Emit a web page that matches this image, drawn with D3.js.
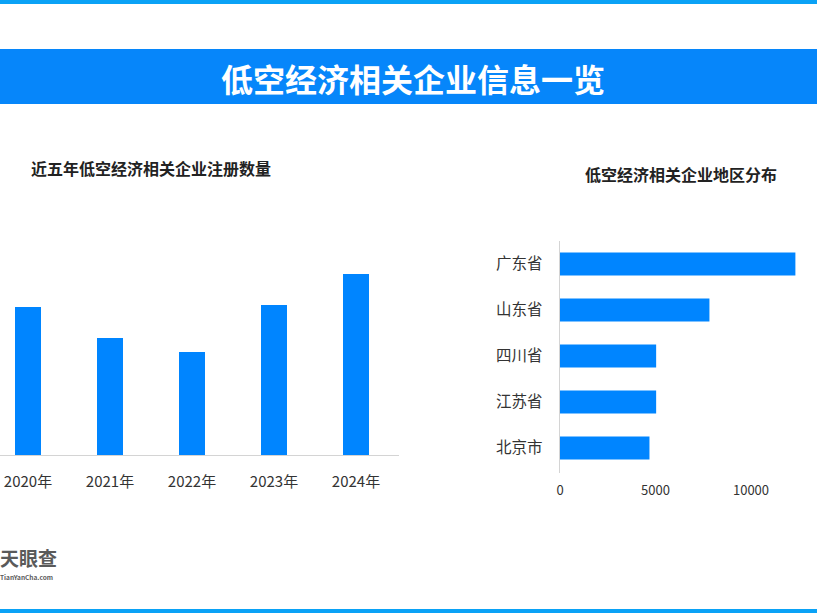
<!DOCTYPE html>
<html><head><meta charset="utf-8">
<script src="https://cdn.jsdelivr.net/npm/d3@7/dist/d3.min.js"></script>
<style>
html,body{margin:0;padding:0;background:#fff;overflow:hidden}
text{font-family:"Noto Sans CJK SC","Noto Sans",sans-serif}
</style></head><body>
<script>
const mainTitle = "低空经济相关企业信息一览";
const leftTitle = "近五年低空经济相关企业注册数量";
const rightTitle = "低空经济相关企业地区分布";
const years = ["2020年","2021年","2022年","2023年","2024年"];
const yearValues = [14800, 11700, 10300, 15000, 18100];
const regions = ["广东省","山东省","四川省","江苏省","北京市"];
const regionValues = [12350, 7850, 5060, 5060, 4710];
const regionTicks = [0, 5000, 10000];

const W = 817, H = 613;
const svg = d3.select("body").append("svg").attr("width", W).attr("height", H);

// decorative bars
svg.append("rect").attr("x",0).attr("y",0).attr("width",W).attr("height",4).attr("fill","#0aa2f6");
svg.append("rect").attr("x",0).attr("y",609).attr("width",W).attr("height",4).attr("fill","#0aa2f6");
svg.append("rect").attr("x",0).attr("y",49).attr("width",W).attr("height",55).attr("fill","#0686fa");
svg.append("text").attr("x",413).attr("y",78).attr("text-anchor","middle").attr("dominant-baseline","central")
  .attr("fill","#fff").attr("font-size",32).attr("font-weight","bold").text(mainTitle);

// left chart
svg.append("text").attr("x",31).attr("y",168).attr("dominant-baseline","central")
  .attr("fill","#222").attr("font-size",16).attr("font-weight","bold").text(leftTitle);
const x = d3.scaleBand().domain(years).range([-13, 397]).paddingInner(0.683).paddingOuter(0.3415);
const y = d3.scaleLinear().domain([0, 20000]).range([455, 255]);
const gl = svg.append("g");
gl.selectAll("rect.bar").data(years).join("rect").attr("class","bar")
  .attr("x", d => x(d)).attr("width", x.bandwidth())
  .attr("y", (d,i) => y(yearValues[i])).attr("height", (d,i) => y(0) - y(yearValues[i]))
  .attr("fill","#0085ff");
const xAxis = gl.append("g").attr("transform","translate(0,455)")
  .call(d3.axisBottom(x).tickSize(0).tickPadding(21));
xAxis.select(".domain").remove();
gl.append("line").attr("x1",0).attr("x2",399).attr("y1",455.5).attr("y2",455.5).attr("stroke","#d4d4d4");
xAxis.selectAll("text").attr("font-size",15).attr("fill","#333")
  .attr("font-family","'Noto Sans CJK SC',sans-serif");

// right chart
svg.append("text").attr("x",585).attr("y",174).attr("dominant-baseline","central")
  .attr("fill","#222").attr("font-size",16).attr("font-weight","bold").text(rightTitle);
const yb = d3.scaleBand().domain(regions).range([241, 471]).paddingInner(0.5).paddingOuter(0.25);
const xr = d3.scaleLinear().domain([0, 10000]).range([559.5, 750.5]);
const gr = svg.append("g");
gr.selectAll("rect.bar").data(regions).join("rect").attr("class","bar")
  .attr("x", xr(0)).attr("y", d => yb(d)).attr("height", yb.bandwidth())
  .attr("width", (d,i) => xr(regionValues[i]) - xr(0)).attr("fill","#0085ff");
gr.append("line").attr("x1",559.5).attr("x2",559.5).attr("y1",241).attr("y2",473).attr("stroke","#d4d4d4");
const yAx = gr.append("g").attr("transform","translate(559.5,0)")
  .call(d3.axisLeft(yb).tickSize(0).tickPadding(17));
yAx.select(".domain").remove();
yAx.selectAll("text").attr("font-size",15.5).attr("fill","#333").attr("font-family","'Noto Sans CJK SC',sans-serif");
const xAx = gr.append("g").attr("transform","translate(0,473)")
  .call(d3.axisBottom(xr).tickValues(regionTicks).tickFormat(d3.format("d")).tickSize(0).tickPadding(13));
xAx.select(".domain").remove();
xAx.selectAll("text").attr("font-size",13).attr("fill","#333").attr("font-family","'Noto Sans CJK SC',sans-serif");

// logo
svg.append("text").attr("x",0).attr("y",566).attr("fill","#5a5a5a").attr("font-size",19).attr("font-weight","bold").text("天眼查");
svg.append("text").attr("x",0).attr("y",580).attr("fill","#5a5a5a")
  .attr("font-size",6.5).attr("font-weight","bold").attr("font-family","'DejaVu Sans',sans-serif").text("TianYanCha.com");
</script>
</body></html>
